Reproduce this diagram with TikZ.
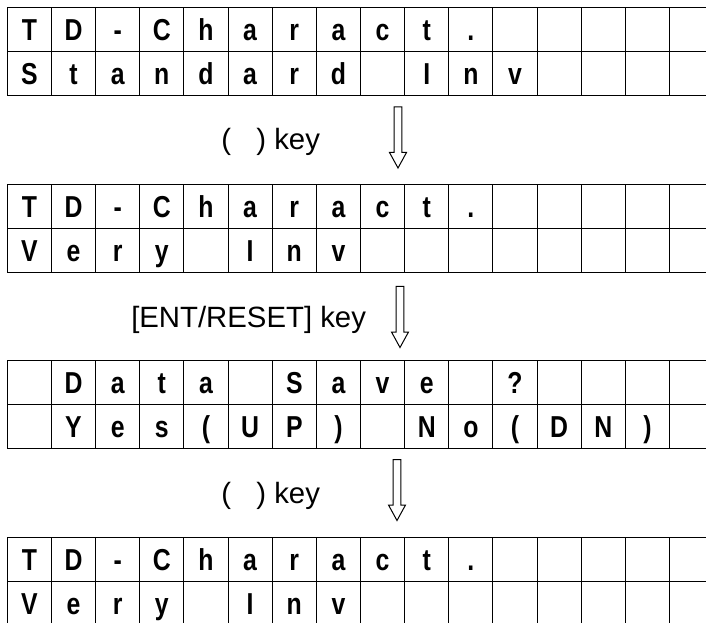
\documentclass[tikz,border=0pt]{standalone}
\usepackage{fontspec}
\setmainfont{Liberation Sans}
\newfontfamily\lcdfont[FakeStretch=0.82]{Liberation Sans}
\usepackage{tikz}

\begin{document}
\begin{tikzpicture}[
  x=0.75pt, y=-0.75pt,
  cell/.style={draw, line width=0.75pt, minimum width=33.11pt, minimum height=33pt, inner sep=0pt,
    text height=16.5pt, text depth=0pt, font=\lcdfont\bfseries\fontsize{22.7}{26}\selectfont},
  keylabel/.style={inner sep=0pt, anchor=base west, font=\fontsize{22}{26}\selectfont},
  keyarrow/.pic={\draw[line width=0.75pt] (-3.85,0) -- (3.85,0) -- (3.85,45.5) -- (8.5,45.5)
    -- (0,61) -- (-8.5,45.5) -- (-3.85,45.5) -- cycle;}
]
\useasboundingbox (0,0) rectangle (706,623);

% screen 1
\foreach \ch [count=\c] in {T,D,-,C,h,a,r,a,c,t,.,{},{},{},{},{}}
  \node[cell] (s1-1-\c) at ({7.3+44.15*(\c-0.5)},29.3) {\ch};
\foreach \ch [count=\c] in {S,t,a,n,d,a,r,d,{},I,n,v,{},{},{},{}}
  \node[cell] (s1-2-\c) at ({7.3+44.15*(\c-0.5)},73.3) {\ch};

\pic (arrow1) at (398,107) {keyarrow};
\node[keylabel] (key1) at (221,150) {(\hspace{19pt}) key};

% screen 2
\foreach \ch [count=\c] in {T,D,-,C,h,a,r,a,c,t,.,{},{},{},{},{}}
  \node[cell] (s2-1-\c) at ({7.3+44.15*(\c-0.5)},206.3) {\ch};
\foreach \ch [count=\c] in {V,e,r,y,{},I,n,v,{},{},{},{},{},{},{},{}}
  \node[cell] (s2-2-\c) at ({7.3+44.15*(\c-0.5)},250.3) {\ch};

\pic (arrow2) at (400,286.5) {keyarrow};
\node[keylabel] (key2) at (131,327) {[ENT/RESET] key};

% screen 3
\foreach \ch [count=\c] in {{},D,a,t,a,{},S,a,v,e,{},?,{},{},{},{}}
  \node[cell] (s3-1-\c) at ({7.3+44.15*(\c-0.5)},382.7) {\ch};
\foreach \ch [count=\c] in {{},Y,e,s,{(},U,P,{)},{},N,o,{(},D,N,{)},{}}
  \node[cell] (s3-2-\c) at ({7.3+44.15*(\c-0.5)},426.7) {\ch};

\pic (arrow3) at (397,459.5) {keyarrow};
\node[keylabel] (key3) at (221,503) {(\hspace{19pt}) key};

% screen 4
\foreach \ch [count=\c] in {T,D,-,C,h,a,r,a,c,t,.,{},{},{},{},{}}
  \node[cell] (s4-1-\c) at ({7.3+44.15*(\c-0.5)},559.3) {\ch};
\foreach \ch [count=\c] in {V,e,r,y,{},I,n,v,{},{},{},{},{},{},{},{}}
  \node[cell] (s4-2-\c) at ({7.3+44.15*(\c-0.5)},603.3) {\ch};
\end{tikzpicture}
\end{document}
